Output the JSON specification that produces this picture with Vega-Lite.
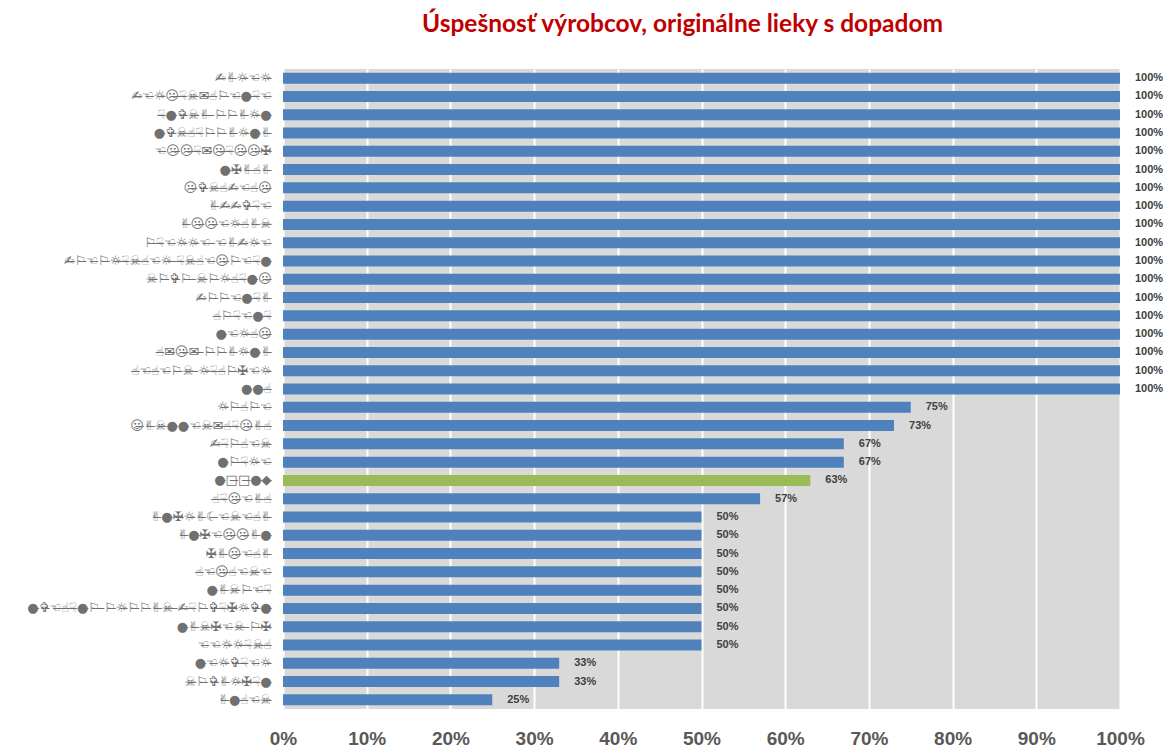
{
  "$schema": "https://vega.github.io/schema/vega-lite/v6.json",
  "width": 837,
  "height": 640,
  "autosize": "none",
  "padding": {"left": 283, "top": 69, "right": 45, "bottom": 40},
  "background": "white",
  "title": {
    "text": "Úspešnosť výrobcov, originálne lieky s dopadom",
    "color": "#C00000",
    "font": "Lato",
    "fontSize": 24.5,
    "fontWeight": "bold",
    "anchor": "middle",
    "dx": -19,
    "offset": 32
  },
  "config": {
    "view": {"fill": "#D9D9D9", "stroke": null}
  },
  "data": {
    "values": [
      {"name": "✍✌☼☜☼", "value": 1, "group": "other"},
      {"name": "✍☜☼☹☟☠✉☝⚐☜●☟☜", "value": 1, "group": "other"},
      {"name": "☟●✞☠✌ ⚐⚐✌☼●", "value": 1, "group": "other"},
      {"name": "●✞☠☝☟⚐⚐✌☼●✌", "value": 1, "group": "other"},
      {"name": "☜☹☹☟✉☹☟☹☹✠", "value": 1, "group": "other"},
      {"name": "●✠✌☝✌", "value": 1, "group": "other"},
      {"name": "☹✞☠☝✍☜☝☹", "value": 1, "group": "other"},
      {"name": "✌✍✍✞☟☜", "value": 1, "group": "other"},
      {"name": "✌☹☹☜☼☝✌☠", "value": 1, "group": "other"},
      {"name": "⚐☟☜☼☼☜ ☜✌✍☼☜", "value": 1, "group": "other"},
      {"name": "✍⚐☜⚐☼☟☠☝☜☼ ☟☠☝☜☹⚐☜☟●", "value": 1, "group": "other"},
      {"name": "☠⚐✞⚐ ☠⚐☼☝☟●☹", "value": 1, "group": "other"},
      {"name": "✍⚐⚐☜●☟✌", "value": 1, "group": "other"},
      {"name": "☝⚐☟☜●☟", "value": 1, "group": "other"},
      {"name": "●☜☼☝☹", "value": 1, "group": "other"},
      {"name": "☝✉☹✉ ⚐⚐✌☼●✌", "value": 1, "group": "other"},
      {"name": "☝☜☝☜⚐☠ ☼☟☝⚐✠☜☼", "value": 1, "group": "other"},
      {"name": "●●☝", "value": 1, "group": "other"},
      {"name": "☼⚐☝⚐☜", "value": 0.75, "group": "other"},
      {"name": "☺✌☠●●☜☠✉☝☟☹✌☝", "value": 0.73, "group": "other"},
      {"name": "✍☟⚐☝☜☠", "value": 0.67, "group": "other"},
      {"name": "●⚐☟☼☜", "value": 0.67, "group": "other"},
      {"name": "●□□●◆", "value": 0.63, "group": "highlight"},
      {"name": "☝☟☹☜✌☝", "value": 0.57, "group": "other"},
      {"name": "✌●✠☼✌☾☜☠☜☝✌", "value": 0.5, "group": "other"},
      {"name": "✌●✠☜☹☹✌●", "value": 0.5, "group": "other"},
      {"name": "✠✌☹☜☝✌", "value": 0.5, "group": "other"},
      {"name": "☝☜☹☝☜☠☜", "value": 0.5, "group": "other"},
      {"name": "●✌☠⚐☜☟", "value": 0.5, "group": "other"},
      {"name": "●✞☜☝☟●⚐ ⚐☼⚐⚐✌☠ ✍☟⚐✞☟✠☼✞●", "value": 0.5, "group": "other"},
      {"name": "●✌☠✠☜☠ ⚐✠", "value": 0.5, "group": "other"},
      {"name": "☜☜☼☼☟☠☝", "value": 0.5, "group": "other"},
      {"name": "●☜☼✞☟☜☼", "value": 0.33, "group": "other"},
      {"name": "☠⚐✞✌☼✠☟●", "value": 0.33, "group": "other"},
      {"name": "✌●☝☜☠", "value": 0.25, "group": "other"}
    ]
  },
  "encoding": {
    "y": {
      "field": "name",
      "type": "nominal",
      "sort": null,
      "scale": {"paddingInner": 0.4, "paddingOuter": 0.2},
      "axis": {
        "title": null,
        "ticks": false,
        "domain": false,
        "labelColor": "#707070",
        "labelFont": "DejaVu Sans",
        "labelFontSize": 13,
        "labelPadding": 12,
        "labelLimit": 400,
        "labelExpr": "replace(datum.label, /(.)/g, '$1\u0336')"
      }
    },
    "x": {
      "field": "value",
      "type": "quantitative",
      "scale": {"domain": [0, 1], "nice": false},
      "axis": {
        "title": null,
        "format": ".0%",
        "values": [0, 0.1, 0.2, 0.3, 0.4, 0.5, 0.6, 0.7, 0.8, 0.9, 1],
        "ticks": false,
        "domain": false,
        "grid": true,
        "gridColor": "white",
        "gridWidth": 2,
        "labelFont": "Liberation Sans",
        "labelFontSize": 19,
        "labelFontWeight": "bold",
        "labelColor": "#595959",
        "labelPadding": 20,
        "labelOverlap": false,
        "labelFlush": false
      }
    }
  },
  "layer": [
    {
      "mark": {"type": "bar"},
      "encoding": {
        "color": {
          "field": "group",
          "type": "nominal",
          "scale": {"domain": ["other", "highlight"], "range": ["#4F81BD", "#9BBB59"]},
          "legend": null
        }
      }
    },
    {
      "mark": {
        "type": "text",
        "align": "left",
        "baseline": "middle",
        "dx": 15,
        "font": "Liberation Sans",
        "fontSize": 11,
        "fontWeight": "bold",
        "color": "#404040"
      },
      "encoding": {
        "text": {"field": "value", "type": "quantitative", "format": ".0%"}
      }
    }
  ]
}
